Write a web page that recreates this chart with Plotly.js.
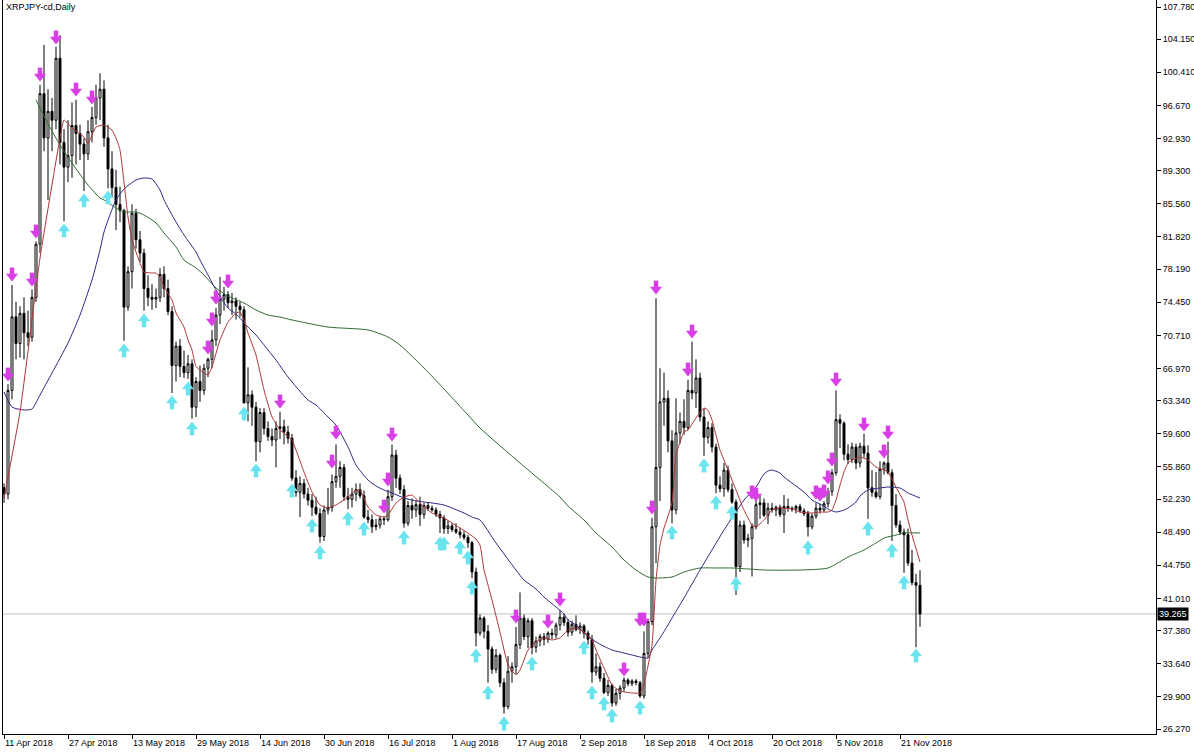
<!DOCTYPE html>
<html><head><meta charset="utf-8">
<script src="https://cdn.plot.ly/plotly-3.0.1.min.js"></script>
<style>html,body{margin:0;padding:0;background:#fff;}#chart{width:1194px;height:754px;}</style>
</head><body><div id="chart"></div>
<script>
const symbolTitle = 'XRPJPY-cd,Daily';
const firstBarDate = '2018-04-11';
const lastPrice = 39.265;

const opens = [53.5,52.8,64.5,72.8,69.8,73.2,71.0,70.5,75.0,81.0,
98.0,93.0,96.0,95.0,102.0,92.5,89.7,91.0,94.4,93.5,
92.3,91.2,93.7,95.3,97.5,98.5,93.0,89.5,87.4,85.5,
84.8,73.9,77.9,84.5,81.5,80.0,76.0,75.0,74.8,75.0,
77.6,76.0,73.4,67.3,69.5,67.2,66.5,67.5,62.6,65.5,
64.5,67.0,68.0,70.2,73.0,74.8,75.3,74.4,74.6,74.0,
73.6,63.1,64.0,62.6,58.7,62.0,60.2,59.3,58.9,60.2,
60.4,59.8,59.1,54.6,53.0,54.0,52.8,52.1,51.3,50.6,
48.0,51.0,51.3,54.2,54.8,55.8,52.5,52.2,52.8,53.3,
52.6,50.2,49.9,49.1,49.3,50.0,49.9,52.5,57.2,54.6,
53.3,49.5,51.5,51.0,51.6,50.5,51.5,51.2,51.0,50.5,
50.1,48.9,49.2,48.8,48.5,48.2,47.9,47.3,44.0,37.1,
38.8,37.3,35.3,33.0,34.6,31.5,28.8,32.8,33.3,35.8,
38.8,36.7,38.5,35.5,36.2,36.7,36.4,37.1,36.9,38.0,
38.9,38.3,37.2,38.1,37.5,37.9,37.1,36.4,32.7,33.3,
32.0,30.4,31.2,29.2,30.3,30.9,31.8,31.4,31.7,31.5,
30.0,34.8,38.4,49.1,55.8,63.2,63.6,58.8,51.0,59.7,
61.0,60.3,64.5,64.2,65.9,61.5,59.2,60.3,58.1,53.8,
53.4,55.5,53.3,51.9,44.6,49.3,47.6,47.8,49.1,51.6,
51.8,50.4,51.2,51.0,51.3,50.5,51.4,51.2,51.1,51.4,
50.9,50.6,49.1,50.3,51.2,51.0,51.7,53.1,55.2,61.2,
60.8,57.3,56.7,58.1,56.3,58.2,57.4,53.5,53.0,52.5,
55.6,56.3,55.2,51.5,49.3,48.5,48.2,45.0,42.8,42.5];

const highs = [54.0,65.2,76.4,74.5,74.0,75.0,73.5,75.9,81.3,99.0,
103.5,98.5,97.5,103.3,104.6,94.0,95.0,97.0,97.3,94.5,
93.0,95.0,96.5,99.0,100.3,99.5,94.5,91.5,89.4,87.5,
85.0,78.5,85.5,85.0,82.5,80.5,77.5,76.5,76.0,78.3,
78.5,77.0,74.0,70.0,70.3,69.0,68.5,68.0,66.0,67.3,
67.5,68.2,71.3,73.8,77.3,76.2,75.7,75.5,75.0,74.5,
74.0,67.1,64.5,63.2,62.5,62.5,61.0,60.2,61.0,62.1,
61.2,60.5,59.6,55.5,54.8,54.5,53.5,52.8,52.5,51.2,
51.5,53.5,55.0,58.4,56.5,56.2,53.5,53.5,54.0,54.0,
53.2,51.0,50.5,50.0,50.3,50.3,53.3,58.4,57.8,55.0,
53.8,52.0,52.3,52.0,52.5,51.8,51.9,51.5,51.3,50.9,
50.4,49.8,49.5,49.5,49.0,48.6,48.2,47.5,44.5,39.2,
39.0,38.0,35.6,35.3,34.8,32.0,34.5,33.8,37.8,41.7,
39.2,38.8,38.8,36.7,37.0,37.1,37.3,37.6,38.3,39.7,
39.3,38.7,38.5,39.1,38.3,38.1,37.4,36.9,34.8,33.8,
32.6,31.8,31.4,30.8,31.2,32.1,32.0,31.9,31.9,31.7,
37.3,38.5,50.1,74.9,67.0,66.5,64.5,60.0,63.6,62.0,
63.5,65.7,70.0,68.0,66.5,62.5,61.0,60.8,58.5,54.8,
56.3,56.0,54.0,52.2,49.8,49.8,48.3,49.5,52.1,52.7,
52.3,51.8,51.8,51.5,51.6,52.7,52.3,51.4,51.6,51.7,
51.2,50.9,50.6,51.8,51.7,52.0,53.5,55.6,64.5,61.8,
61.0,58.4,58.6,58.5,58.6,59.6,58.3,55.5,55.3,56.5,
56.5,58.7,55.6,52.8,49.8,48.9,48.9,46.5,43.8,44.2];

const lows = [51.8,52.2,63.5,68.0,68.2,68.0,69.5,70.0,74.5,80.0,
91.5,86.0,91.5,94.0,90.0,83.6,88.0,88.5,90.0,90.5,
87.0,90.5,92.5,94.5,95.0,92.0,87.3,86.3,82.6,83.5,
70.1,73.5,76.0,80.5,79.0,73.5,74.0,73.6,73.8,74.5,
75.0,73.0,64.2,65.5,66.0,65.9,65.8,61.3,61.5,63.2,
64.0,66.0,67.0,69.5,72.0,73.5,73.8,73.0,72.5,72.8,
63.0,61.0,60.5,56.5,57.5,59.5,58.8,58.2,55.8,59.0,
58.4,58.5,54.3,52.5,50.2,52.3,51.5,50.3,50.4,47.3,
47.5,50.5,50.8,53.5,53.5,52.0,51.1,51.3,52.0,52.3,
50.0,49.5,48.4,48.7,48.9,49.3,49.7,52.0,53.5,52.8,
49.0,49.2,50.0,50.2,49.2,50.0,50.9,50.8,50.2,48.4,
48.3,48.3,48.5,48.3,47.8,47.6,46.7,43.3,35.6,36.8,
36.5,31.5,32.5,32.6,31.0,28.0,28.5,31.5,32.5,35.3,
36.3,35.4,34.7,34.9,35.6,35.7,36.0,36.4,36.5,37.4,
37.9,36.7,36.8,37.3,37.0,36.5,35.8,31.5,32.3,31.6,
30.2,30.0,28.8,28.9,29.6,30.5,31.1,31.1,31.2,29.8,
29.7,34.3,38.0,45.0,52.0,60.5,57.5,49.5,50.5,58.5,
59.5,60.0,63.5,62.5,61.0,57.1,58.5,57.5,52.9,53.0,
52.5,53.0,51.7,41.4,44.0,47.2,46.8,43.5,48.8,50.0,
50.2,49.4,50.7,50.3,50.2,48.4,50.8,50.8,50.6,50.7,
50.3,48.0,48.8,50.0,50.6,50.8,51.3,52.6,54.9,58.0,
56.6,56.2,56.3,55.6,55.8,56.9,50.0,52.5,52.3,52.2,
55.0,55.0,47.5,49.0,48.2,43.9,44.7,42.5,35.5,37.8];

const closes = [52.8,64.5,72.8,69.8,73.2,71.0,70.5,75.0,81.0,98.0,
93.0,96.0,95.0,102.0,92.5,89.7,91.0,94.4,93.5,92.3,
91.2,93.7,95.3,97.5,98.5,93.0,89.5,87.4,85.5,84.8,
73.9,77.9,84.5,81.5,80.0,76.0,75.0,74.8,75.0,77.6,
76.0,73.4,67.3,69.5,67.2,66.5,67.5,62.6,65.5,64.5,
67.0,68.0,70.2,73.0,74.8,75.3,74.4,74.6,74.0,73.6,
63.1,64.0,62.6,58.7,62.0,60.2,59.3,58.9,60.2,60.4,
59.8,59.1,54.6,53.0,54.0,52.8,52.1,51.3,50.6,48.0,
51.0,51.3,54.2,54.8,55.8,52.5,52.2,52.8,53.3,52.6,
50.2,49.9,49.1,49.3,50.0,49.9,52.5,57.2,54.6,53.3,
49.5,51.5,51.0,51.6,50.5,51.5,51.2,51.0,50.5,50.1,
48.9,49.2,48.8,48.5,48.2,47.9,47.3,44.0,37.1,38.8,
37.3,35.3,33.0,34.6,31.5,28.8,32.8,33.3,35.8,38.8,
36.7,38.5,35.5,36.2,36.7,36.4,37.1,36.9,38.0,38.9,
38.3,37.2,38.1,37.5,37.9,37.1,36.4,32.7,33.3,32.0,
30.4,31.2,29.2,30.3,30.9,31.8,31.4,31.7,31.5,30.0,
34.8,38.4,49.1,55.8,63.2,63.6,58.8,51.0,59.7,61.0,
60.3,64.5,64.2,65.9,61.5,59.2,60.3,58.1,53.8,53.4,
55.5,53.3,51.9,44.6,49.3,47.6,47.8,49.1,51.6,51.8,
50.4,51.2,51.0,51.3,50.5,51.4,51.2,51.1,51.4,50.9,
50.6,49.1,50.3,51.2,51.0,51.7,53.1,55.2,61.2,60.8,
57.3,56.7,58.1,56.3,58.2,57.4,53.5,53.0,52.5,55.6,
56.3,55.2,51.5,49.3,48.5,48.2,45.0,42.8,42.5,39.265];

// moving averages: bar index + value
const fastMaBar = [0,4,9,14,15,17,20,21,23,25,27,28,29,31,32,34,35,37,38,39,40,42,43,45,46,47,48,50,51,52,54,56,58,59,60,61,63,65,67,69,72,73,75,77,79,81,83,86,88,89,91,93,95,96,98,100,102,104,107,110,112,114,116,118,119,120,121,122,124,126,128,129,131,133,135,137,139,141,143,145,147,148,150,152,154,157,159,160,162,163,164,165,167,168,170,171,173,175,176,177,178,179,181,183,185,187,188,190,192,194,197,199,202,204,206,207,208,209,210,211,212,214,216,218,220,221,223,225,226,227,229];
const fastMaVal = [52.35,62.06,79.44,92.99,95.02,94.12,93.10,92.4,94.23,94.46,93.89,92.99,91.64,84.07,81.48,78.88,77.86,77.75,77.75,77.30,76.17,74.70,73.24,71.65,70.19,69.06,67.2,66.46,66.24,67.14,70.19,72.22,73.24,73.35,72.45,70.98,68.49,64.54,61.50,60.03,58.90,57.77,55.29,53.03,51.56,51.22,51.56,52.46,53.25,53.25,51.33,50.43,50.20,50.43,51.79,52.46,52.69,51.79,50.66,50.09,49.53,48.96,48.40,47.72,47.04,44.22,42.53,40.84,37.22,33.50,32.37,32.93,35.19,36.10,36.55,36.32,36.55,37.45,37.68,37.22,36.32,35.19,33.16,31.24,30.56,30.34,30.34,31.35,35.76,43.09,47.04,48.96,51.79,57.20,59.80,60.03,61.38,62.51,62.28,61.16,59.46,57.77,55.51,53.25,50.99,49.30,49.08,49.87,50.99,51.22,51.11,50.77,50.66,50.77,50.77,50.99,52.12,53.82,55.29,56.30,56.64,56.98,56.64,55.85,55.51,55.29,53.59,51.90,49.87,48.17,45.13];

const midMaBar = [0,2,5,7,9,12,16,19,22,24,25,28,30,33,35,37,39,40,43,45,48,49,51,53,56,58,61,63,66,68,71,76,78,81,83,86,88,91,93,95,97,100,102,105,107,110,112,115,117,119,123,128,130,133,135,138,140,141,143,145,148,152,155,157,159,161,162,164,166,167,170,174,177,180,183,185,188,190,191,192,194,195,197,200,202,205,206,208,210,211,213,214,216,219,221,224,226,229];
const midMaVal = [64.32,62.62,62.29,62.40,63.98,66.46,69.85,73.01,76.96,80.35,82.38,86.00,87.23,88.25,88.48,88.36,87.12,86.00,83.51,82.04,80.12,79.22,77.53,75.83,73.80,73.12,71.65,70.75,69.06,67.93,66.01,63.41,62.85,61.50,60.59,58.11,56.08,54.38,53.71,53.25,52.92,52.35,52.12,51.90,51.79,51.56,51.22,50.66,50.20,49.87,47.27,44.22,43.09,42.08,41.17,40.05,39.26,38.58,38.01,37.11,36.10,35.19,34.85,34.63,34.40,34.29,35.19,36.55,38.01,38.80,41.06,44.22,46.48,48.74,50.77,52.12,53.59,55.06,55.40,55.51,55.17,54.72,54.04,53.03,52.12,51.45,51.11,50.77,50.99,51.22,51.90,52.58,53.25,53.48,53.59,53.48,52.92,52.35];

const slowMaBar = [8,11,14,17,21,24,25,28,30,33,35,38,40,43,45,48,50,53,56,60,63,66,69,72,81,91,96,99,106,116,119,129,139,141,145,148,152,155,158,161,163,167,170,174,178,182,186,190,199,206,211,215,218,220,223,225,229];
const slowMaVal = [97.3,94.6,92.20,90.17,87.68,86.22,86.0,85.09,84.64,84.64,84.30,83.40,82.27,80.69,79.22,78.32,77.53,76.06,75.15,74.36,73.57,73.01,72.78,72.45,71.65,71.32,70.53,69.62,66.57,61.72,60.25,56.30,52.46,51.45,49.87,48.40,46.82,45.35,44.22,43.43,43.32,43.43,44.00,44.45,44.45,44.45,44.34,44.22,44.22,44.45,45.69,46.48,47.27,47.83,48.17,48.40,48.40];

// signal arrows: bar index + price at arrow centre
const downArrowBar = [1,2,7,8,9,13,18,22,51,52,53,56,69,82,83,95,96,97,128,136,139,155,159,160,162,163,171,172,187,188,203,204,205,206,207,208,215,220,221];
const downArrowPrice = [66.24,77.53,76.96,82.38,100.10,104.28,98.41,97.51,69.28,72.45,74.93,76.74,63.19,56.41,59.69,51.33,54.38,59.46,38.92,38.35,40.84,32.93,38.58,38.58,51.22,76.06,66.80,71.09,52.92,52.69,52.92,52.69,53.03,54.61,56.64,65.67,60.59,57.55,59.69];
const upArrowBar = [15,20,26,30,35,42,46,47,60,63,72,77,79,86,90,100,109,110,114,116,117,118,121,125,132,145,147,150,152,159,167,175,178,182,183,201,216,222,225,228];
const upArrowPrice = [82.61,86.0,86.33,69.06,72.45,63.19,64.77,60.25,61.95,55.51,53.25,49.30,46.26,50.09,48.96,47.95,47.27,47.27,46.82,45.69,42.30,34.63,30.45,26.95,33.72,35.53,30.45,29.21,27.85,28.76,48.51,56.08,51.90,50.77,42.75,46.82,48.96,46.48,42.87,34.63];

const yTickVals = [107.78,104.15,100.41,96.67,92.93,89.30,85.56,81.82,78.19,74.45,70.71,66.97,63.34,59.60,55.86,52.23,48.49,44.75,41.01,37.38,33.64,29.90,26.27];
const xTickDates = ['2018-04-11','2018-04-27','2018-05-13','2018-05-29','2018-06-14','2018-06-30','2018-07-16','2018-08-01','2018-08-17','2018-09-02','2018-09-18','2018-10-04','2018-10-20','2018-11-05','2018-11-21'];
const xTickText = ['11 Apr 2018','27 Apr 2018','13 May 2018','29 May 2018','14 Jun 2018','30 Jun 2018','16 Jul 2018','1 Aug 2018','17 Aug 2018','2 Sep 2018','18 Sep 2018','4 Oct 2018','20 Oct 2018','5 Nov 2018','21 Nov 2018'];

// ---- build ----
const base = new Date(firstBarDate + 'T00:00:00Z');
function barDate(i){ const d = new Date(base.getTime() + i*86400000); return d.toISOString().slice(0,10); }
const dates = closes.map((_, i) => barDate(i));

const W = 1194, H = 754;
const M = {l:3, r:38, t:0, b:20};
const yRange = [25.71, 108.57];
const pxPerUnit = (H - M.t - M.b) / (yRange[1] - yRange[0]);
const xRange = ['2018-04-10 18:00', '2019-01-24 00:00'];

const MAG = '#d93fe6', CYAN = '#6ae4ef';
const font = 'Liberation Sans, Arial, sans-serif';

function arrowTraces(bars, prices, dir, color){
  const xs = bars.map(i => dates[i]);
  const s = dir === 'down' ? 1 : -1;
  const stemY = prices.map(p => p + s*3.2/pxPerUnit);
  const headY = prices.map(p => p - s*1.3/pxPerUnit);
  return [
    {type:'scatter', mode:'markers', x: xs, y: stemY, hoverinfo:'skip', showlegend:false,
     marker:{symbol:'line-ns', size:6, line:{color:color, width:4.5}}},
    {type:'scatter', mode:'markers', x: xs, y: headY, hoverinfo:'skip', showlegend:false,
     marker:{symbol: dir === 'down' ? 'triangle-down' : 'triangle-up', size:10.5, color:color, line:{width:0}}}
  ];
}

const traces = [
  {type:'candlestick', x: dates, open: opens, high: highs, low: lows, close: closes,
   increasing:{line:{color:'#000', width:1}, fillcolor:'#ffffff'},
   decreasing:{line:{color:'#000', width:1}, fillcolor:'#000000'},
   whiskerwidth:0, showlegend:false, hoverinfo:'skip'},
  {type:'scatter', mode:'lines', x: slowMaBar.map(i => dates[i]), y: slowMaVal,
   line:{color:'#2e6a2e', width:1, shape:'spline', smoothing:0.6}, showlegend:false, hoverinfo:'skip'},
  {type:'scatter', mode:'lines', x: midMaBar.map(i => dates[i]), y: midMaVal,
   line:{color:'#2a2a86', width:1, shape:'spline', smoothing:0.6}, showlegend:false, hoverinfo:'skip'},
  {type:'scatter', mode:'lines', x: fastMaBar.map(i => dates[i]), y: fastMaVal,
   line:{color:'#b03434', width:1, shape:'spline', smoothing:0.4}, showlegend:false, hoverinfo:'skip'},
  ...arrowTraces(downArrowBar, downArrowPrice, 'down', MAG),
  ...arrowTraces(upArrowBar, upArrowPrice, 'up', CYAN)
];

const layout = {
  width: W, height: H, margin: M,
  paper_bgcolor:'#ffffff', plot_bgcolor:'#ffffff',
  showlegend:false,
  title:{text: symbolTitle, x: 6/W, xanchor:'left', y: 1 - 7/H, yanchor:'middle', xref:'container', yref:'container',
         font:{family: font, size: 9, color:'#000'}},
  xaxis:{type:'date', range: xRange, showgrid:false, zeroline:false,
         showline:true, linecolor:'#000', linewidth:1,
         ticks:'outside', ticklen:4, tickcolor:'#000', tickwidth:1,
         tickmode:'array', tickvals: xTickDates, ticktext: xTickText,
         ticklabelposition:'outside right',
         tickfont:{family: font, size: 9, color:'#000'},
         rangeslider:{visible:false}, fixedrange:true},
  yaxis:{side:'right', range: yRange, showgrid:false, zeroline:false,
         showline:true, mirror:true, linecolor:'#000', linewidth:1,
         ticks:'outside', ticklen:4, tickcolor:'#000', tickwidth:1,
         tickmode:'array', tickvals: yTickVals, ticktext: yTickVals.map(v => v.toFixed(3)),
         tickfont:{family: font, size: 9, color:'#000'}, fixedrange:true},
  shapes:[{type:'line', xref:'paper', x0:0, x1:1, yref:'y', y0:lastPrice, y1:lastPrice,
           line:{color:'#c0c0c0', width:1}, layer:'below'}],
  annotations:[{xref:'paper', x:1, xanchor:'left', xshift:1, yref:'y', y:lastPrice, yanchor:'middle',
                text: lastPrice.toFixed(3), showarrow:false, bgcolor:'#000', borderpad:1,
                font:{family: font, size: 9, color:'#fff'}}]
};

Plotly.newPlot('chart', traces, layout, {staticPlot:true, displayModeBar:false});
</script></body></html>
